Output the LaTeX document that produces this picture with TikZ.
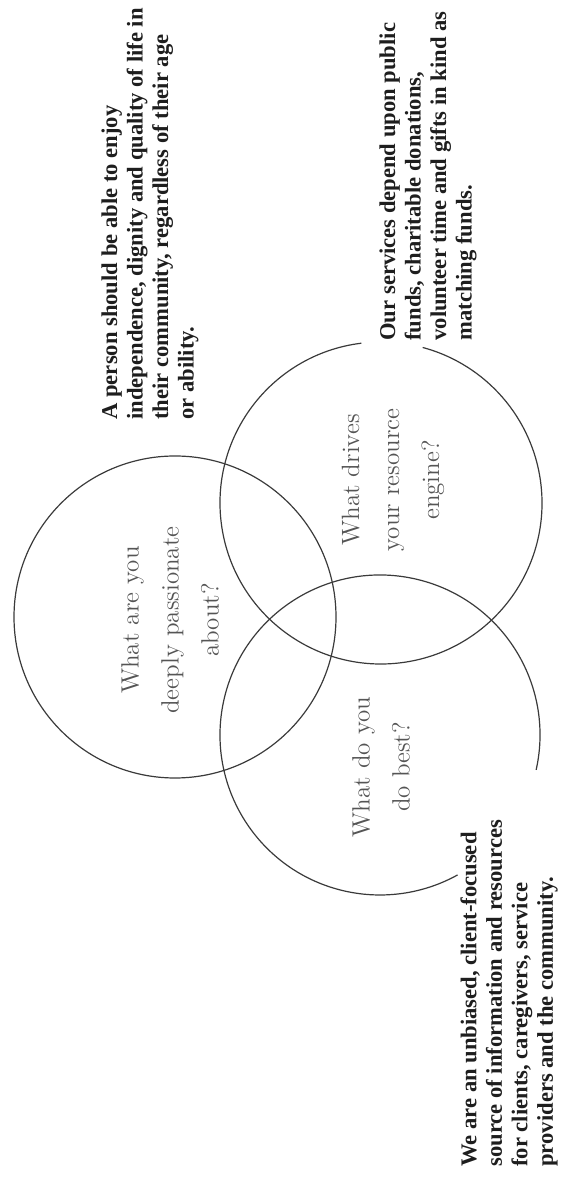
\documentclass[tikz,border=0pt]{standalone}
\usepackage{fontspec}
\newfontfamily\stmtfont{Liberation Serif}
\usetikzlibrary{calc}
\definecolor{vline}{HTML}{3A3A3A}
\definecolor{vqtext}{HTML}{555555}
\definecolor{vstmt}{HTML}{1E1E1E}
\tikzset{
  vcirc/.style   = {draw=vline, line width=0.6pt},
  vquest/.style  = {font=\fontsize{12.5}{20}\selectfont, text=vqtext,
                    align=center, rotate=90, inner sep=0pt},
  vstmtbox/.style = {font=\stmtfont\bfseries\fontsize{11.3}{12.75}\selectfont,
                    text=vstmt, align=left, rotate=90, inner sep=0pt,
                    anchor=north west},
}

\begin{document}
\begin{tikzpicture}[x=0.5pt, y=0.5pt]
        \useasboundingbox (0,0) rectangle (569,1177);
        % centres of the three circles
        \coordinate (pas)  at (175,560);
        \coordinate (eng)  at (381,674);
        \coordinate (best) at (380,442);
        \draw[vcirc] (pas) circle[radius=161];
        \draw[vcirc] ($(eng)+(97:161)$) arc[start angle=97, end angle=435, radius=161];
        \draw[vcirc] ($(best)+(-12.6:160)$) arc[start angle=-12.6, end angle=299, radius=160];
        % questions
        \node[vquest] (qpas)  at ($(pas)+(-5,-3)$)  {What are you\\deeply passionate\\about?};
        \node[vquest] (qeng)  at ($(eng)+(12,23)$)  {What drives\\your resource\\engine?};
        \node[vquest] (qbest) at ($(best)+(1,-32)$) {What do you\\do best?};
        % statements
        \node[vstmtbox] (spas)  at (101,757) {A person should be able to enjoy\\independence, dignity and quality of life in\\their community, regardless of their age\\or ability.};
        \node[vstmtbox] (seng)  at (379,836) {Our services depend upon public\\funds, charitable donations,\\volunteer time and gifts in kind as\\matching funds.};
        \node[vstmtbox] (sbest) at (460,10)  {We are an unbiased, client-focused\\source of information and resources\\for clients, caregivers, service\\providers and the community.};
\end{tikzpicture}
\end{document}
